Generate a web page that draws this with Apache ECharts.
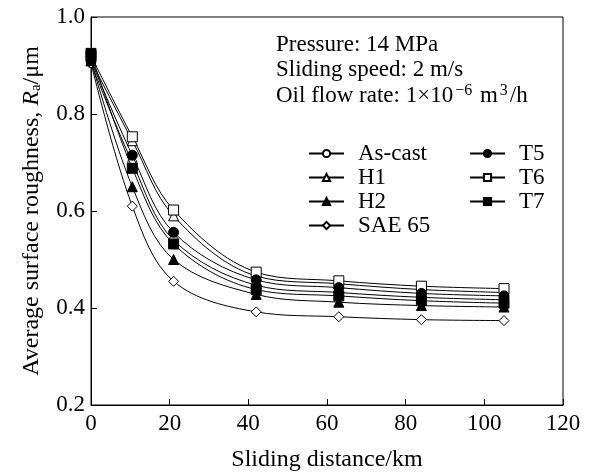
<!DOCTYPE html>
<html><head><meta charset="utf-8">
<script src="https://cdn.jsdelivr.net/npm/echarts@6/dist/echarts.min.js"></script>
<style>html,body{margin:0;padding:0;background:#fff}#c{width:599px;height:475px}</style>
</head><body><div id="c"></div>
<script>
const distances = [0, 10.5, 21, 42, 63, 84, 105];
const asCast = [0.905, 0.700, 0.540, 0.447, 0.432, 0.422, 0.417];
const h1 = [0.910, 0.745, 0.590, 0.466, 0.450, 0.438, 0.432];
const h2 = [0.910, 0.650, 0.500, 0.428, 0.412, 0.405, 0.402];
const sae65 = [0.905, 0.610, 0.455, 0.392, 0.382, 0.376, 0.374];
const t5 = [0.910, 0.715, 0.556, 0.458, 0.442, 0.430, 0.425];
const t6 = [0.920, 0.753, 0.602, 0.474, 0.456, 0.445, 0.440];
const t7 = [0.925, 0.688, 0.532, 0.438, 0.425, 0.415, 0.410];
const xTicks = [0, 20, 40, 60, 80, 100, 120];
const yTicks = [0.2, 0.4, 0.6, 0.8, 1.0];

const F = '"Liberation Serif","Times New Roman",serif';
function mk(name, vals, symbol, filled, size) {
  return {
    name: name, type: 'line', smooth: 0.35,
    data: distances.map((d, i) => [d, vals[i]]),
    symbol: symbol, symbolSize: size,
    showAllSymbol: true,
    lineStyle: {color: '#000', width: 1},
    itemStyle: {color: filled ? '#000' : '#fff', borderColor: '#000', borderWidth: 1},
    emphasis: {disabled: true}, z: filled ? 3 : 2
  };
}
const series = [
  mk('As-cast', asCast, 'circle', false, 9),
  mk('H1', h1, 'triangle', false, 10),
  mk('H2', h2, 'triangle', true, 10),
  mk('SAE 65', sae65, 'diamond', false, 10),
  mk('T5', t5, 'circle', true, 10),
  mk('T6', t6, 'rect', false, 10),
  mk('T7', t7, 'rect', true, 10)
];
const chart = echarts.init(document.getElementById('c'), null, {renderer: 'canvas'});
const legBase = {
  orient: 'vertical', itemWidth: 35, itemHeight: 9, itemGap: 1,
  textStyle: {fontFamily: F, fontSize: 23, color: '#000', padding: [0,0,0,9]},
  selectedMode: false
};
chart.setOption({
  animation: false,
  backgroundColor: '#fff',
  grid: {left: 91, right: 36, top: 17, bottom: 70, show: true, borderColor: '#000', borderWidth: 1,
         containLabel: false, outerBoundsMode: 'none'},
  legend: [
    Object.assign({}, legBase, {left: 303, top: 137, data: ['As-cast', 'H1', 'H2', 'SAE 65']}),
    Object.assign({}, legBase, {left: 464, top: 137, data: ['T5', 'T6', 'T7']})
  ],
  xAxis: {
    type: 'value', min: 0, max: 120, interval: 20,
    name: 'Sliding distance/km', nameLocation: 'middle', nameGap: 43,
    nameTextStyle: {fontFamily: F, fontSize: 24, color: '#000'},
    axisLine: {lineStyle: {color: '#000'}},
    axisTick: {inside: true, length: 6, lineStyle: {color: '#000'}},
    axisLabel: {fontFamily: F, fontSize: 23, color: '#000', margin: 7,
      formatter: v => xTicks.includes(v) ? String(v) : ''},
    splitLine: {show: false}
  },
  yAxis: {
    type: 'value', min: 0.2, max: 1.0, interval: 0.2,
    name: 'Average surface roughness, {i|R}{sub|a}/μm', nameLocation: 'middle', nameGap: 47,
    nameTextStyle: {fontFamily: F, fontSize: 24, color: '#000',
      rich: {i: {fontFamily: F, fontSize: 24, fontStyle: 'italic', color: '#000'},
             sub: {fontFamily: F, fontSize: 15, color: '#000', verticalAlign: 'bottom', padding: [10,0,0,0]}}},
    axisLine: {lineStyle: {color: '#000'}},
    axisTick: {inside: true, length: 6, lineStyle: {color: '#000'}},
    axisLabel: {fontFamily: F, fontSize: 23, color: '#000', margin: 6,
      formatter: v => { const t = yTicks.find(k => Math.abs(k - v) < 1e-9); return t === undefined ? '' : t.toFixed(1); }},
    splitLine: {show: false}
  },
  graphic: [
    {type: 'text', left: 276, top: 33, style: {text: 'Pressure: 14 MPa', font: '23px ' + F, fill: '#000'}},
    {type: 'text', left: 276, top: 58, style: {text: 'Sliding speed: 2 m/s', font: '23px ' + F, fill: '#000'}},
    {type: 'text', left: 276, top: 83, style: {
      text: 'Oil flow rate: 1×10{sup|−6} m{sup|3}/h', font: '23px ' + F, fill: '#000',
      rich: {sup: {fontFamily: F, fontSize: 16, fill: '#000', verticalAlign: 'top', padding: [0,2,9,2]}}}}
  ],
  series: series
});
</script></body></html>
